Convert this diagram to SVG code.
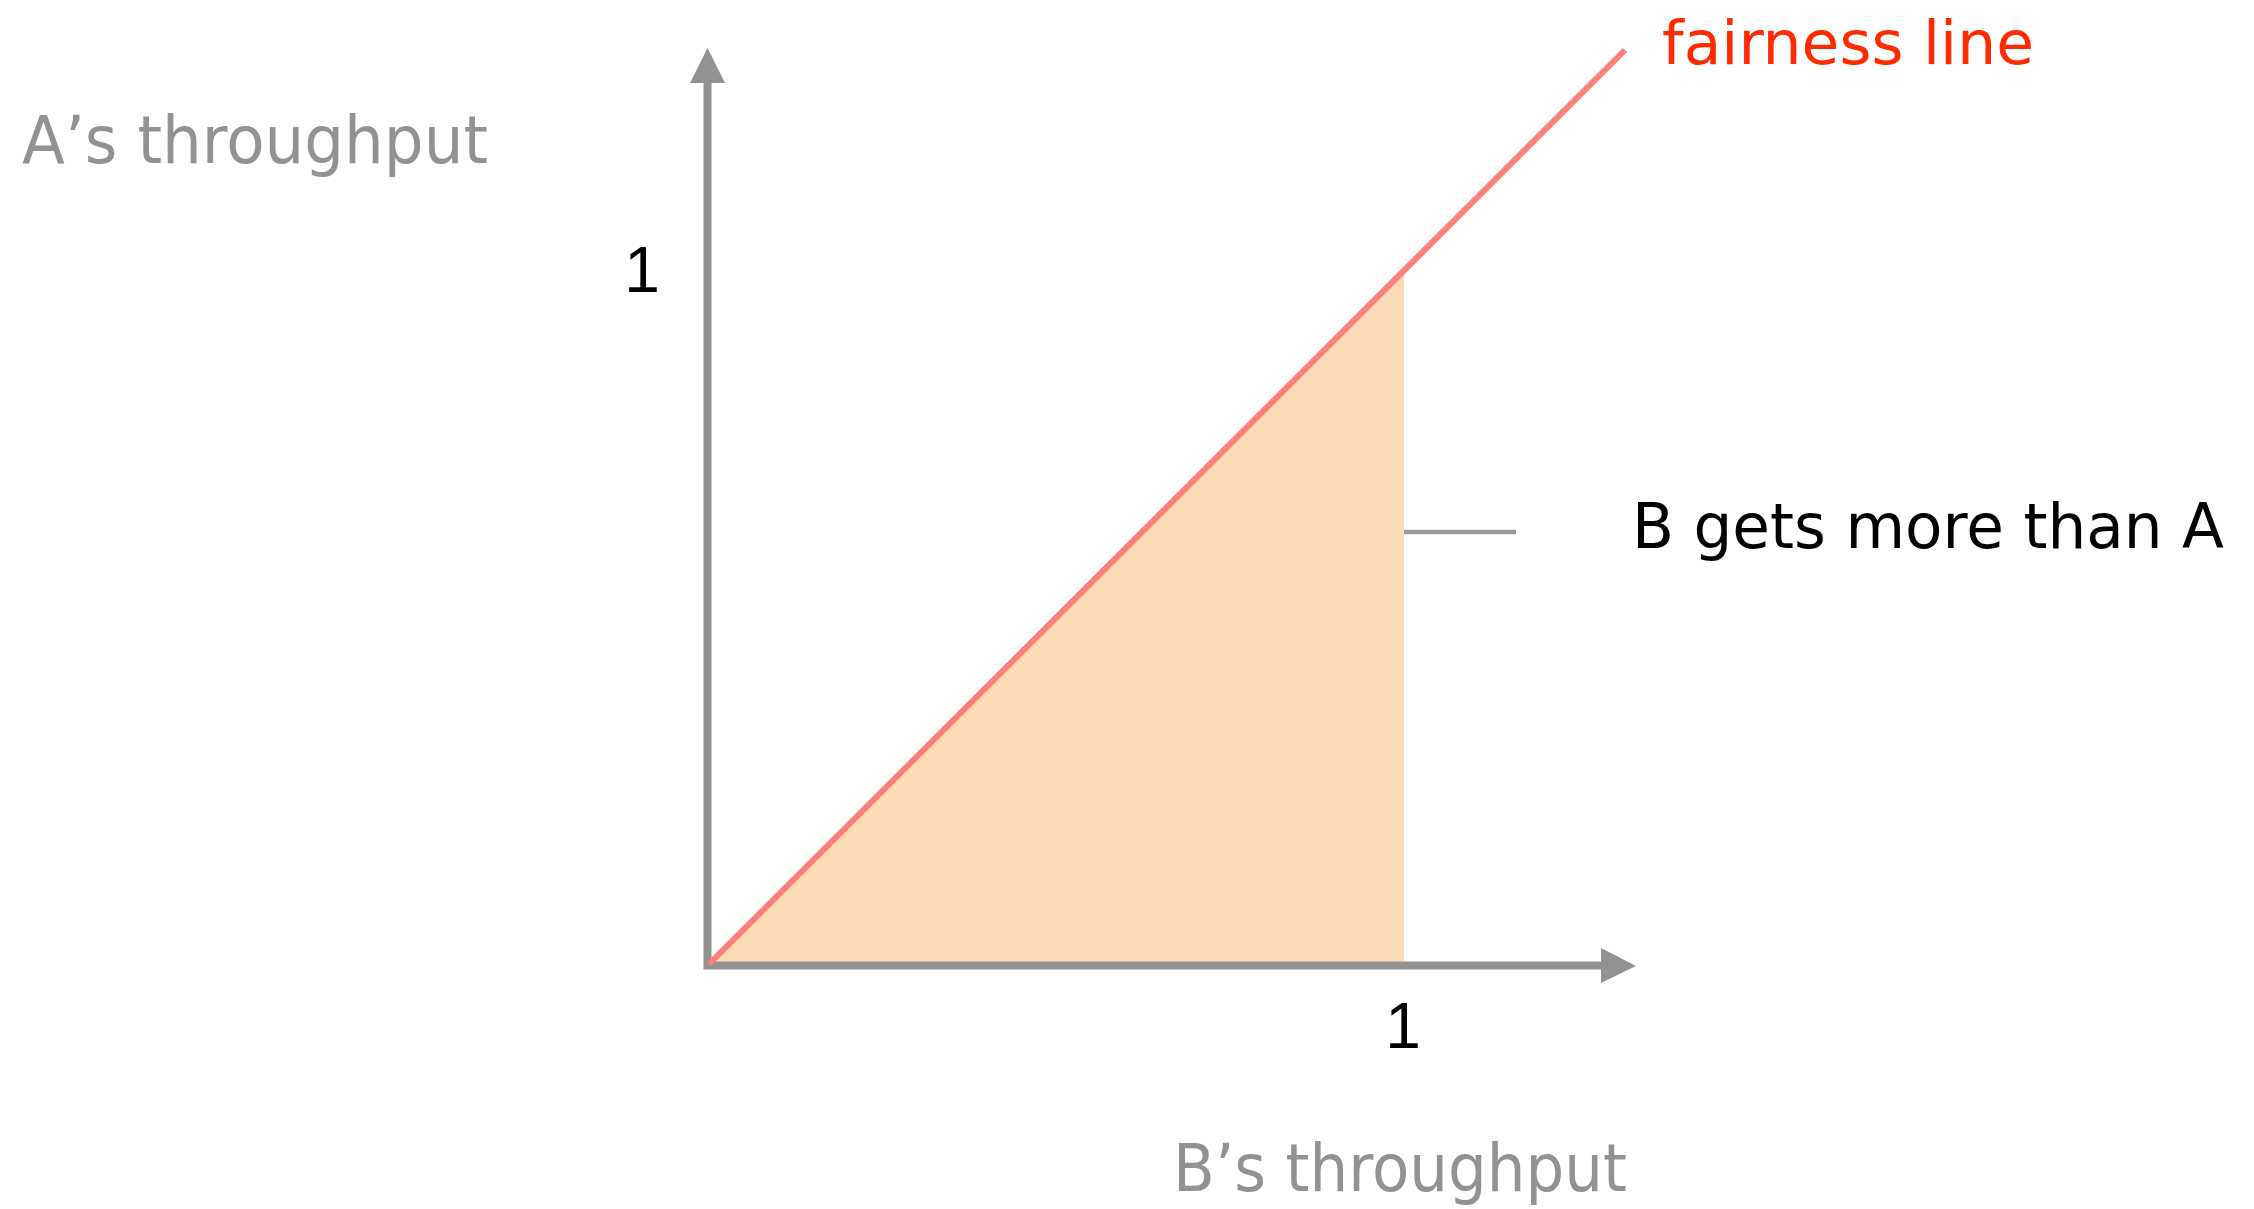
<svg xmlns="http://www.w3.org/2000/svg" width="2254" height="1209" viewBox="0 0 2254 1209">
<style>
.lbl{font-family:"DejaVu Sans","Liberation Sans",sans-serif;}
.axis-t{fill:#929292;font-size:65px;}
.blk{fill:#000;font-size:62px;}
.num{font-family:"Liberation Sans",sans-serif;fill:#000;font-size:64px;}
.red{fill:#FF2A00;font-size:61px;}
.ax{stroke:#929292;stroke-width:8;fill:none;}
.head{fill:#929292;}
</style>
<rect width="2254" height="1209" fill="#fff"/>
<g id="region">
<polygon points="708,964 1404,270 1404,962 708,962" fill="#FDDBB7"/>
</g>
<g id="axes">
<path class="ax" d="M707.5,82 V965.5 H1602"/>
<polygon class="head" points="707.5,48 690,83 725,83"/>
<polygon class="head" points="1636,966 1601,948 1601,983"/>
</g>
<g id="fairness">
<line x1="709" y1="964" x2="1625" y2="50" stroke="#FF7E79" stroke-width="6"/>
</g>
<g id="connectors">
<line x1="1404" y1="532" x2="1516" y2="532" stroke="#999" stroke-width="4.5"/>
</g>
<g id="labels" class="lbl">
<text class="axis-t" x="22" y="163" textLength="466" lengthAdjust="spacingAndGlyphs">A’s throughput</text>
<text class="axis-t" x="1173" y="1191" textLength="454" lengthAdjust="spacingAndGlyphs">B’s throughput</text>
<text class="red" x="1662" y="64" textLength="372" lengthAdjust="spacingAndGlyphs">fairness line</text>
<text class="blk" x="1632" y="548" textLength="592" lengthAdjust="spacingAndGlyphs">B gets more than A</text>
<text class="num" x="642" y="292" text-anchor="middle">1</text>
<text class="num" x="1403" y="1048" text-anchor="middle">1</text>
</g>
</svg>
